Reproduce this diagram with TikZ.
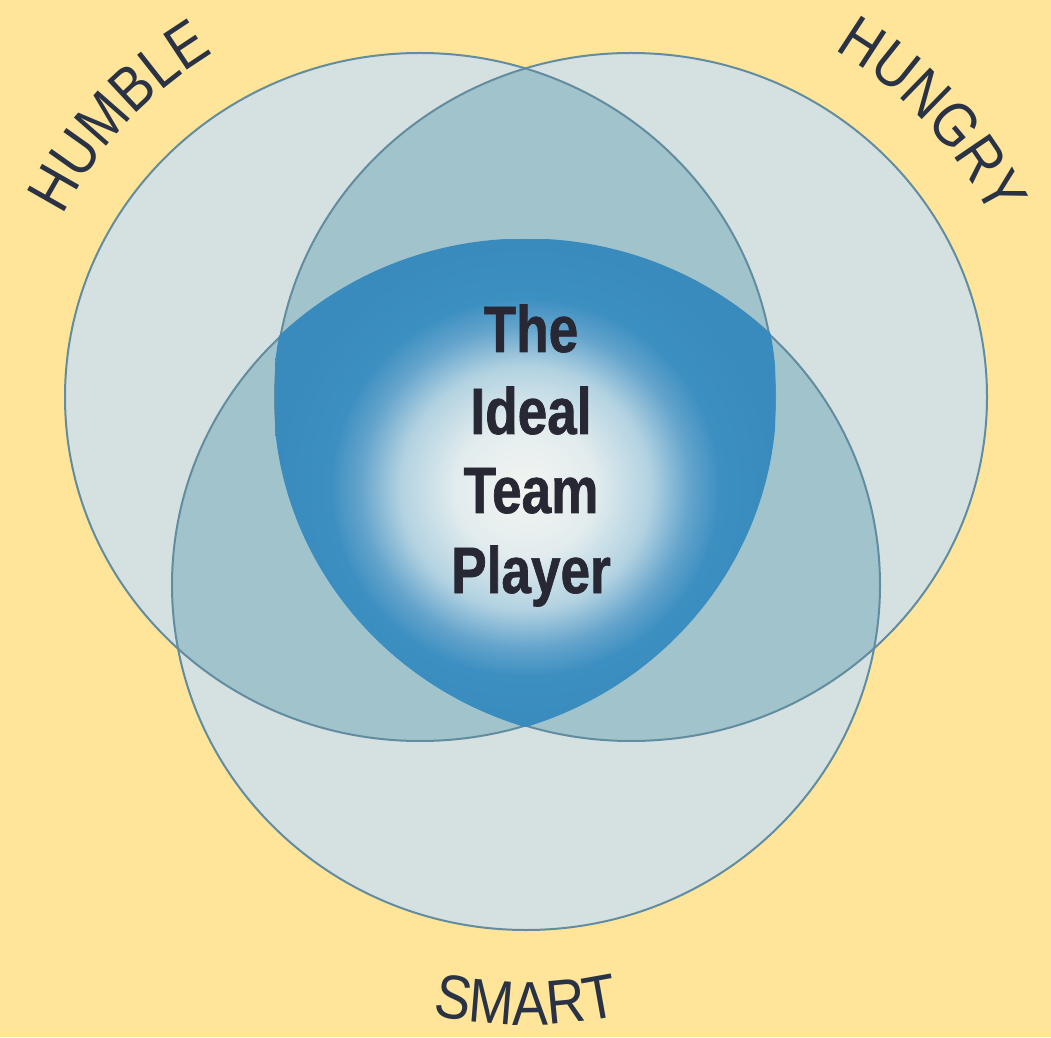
\documentclass[tikz,border=0pt]{standalone}
\usepackage{fontspec}
\usetikzlibrary{decorations.text}

% Typefaces: a narrowed sans for the ring labels and the centre title
\newfontfamily\ringlabelfam[FakeStretch=0.87]{Liberation Sans}
\newfontfamily\corefam[FakeStretch=0.81, BoldFeatures={FakeBold=1}]{Liberation Sans}
\newcommand\ringlabelfont{\ringlabelfam\fontsize{62}{70}\selectfont}
\newcommand\coretitlefont{\corefam\bfseries\fontsize{65.6}{80}\selectfont}

% Palette
\definecolor{paper}{RGB}{255,229,153}
\definecolor{ringfill}{RGB}{213,224,224}
\definecolor{pairfill}{RGB}{161,196,204}
\definecolor{ringline}{RGB}{98,140,160}
\definecolor{labelink}{RGB}{42,50,70}
\definecolor{coreink}{RGB}{40,40,52}
\definecolor{corecentre}{RGB}{243,245,241}
\definecolor{corepale}{RGB}{226,236,238}
\definecolor{coremid}{RGB}{178,210,225}
\definecolor{coresoft}{RGB}{100,164,204}
\definecolor{coreblue}{RGB}{60,143,193}
\definecolor{coredeep}{RGB}{57,139,189}

% Glow of the shared core: pale centre fading out to deep blue
% (25bp reaches the edge of the shaded box)
\pgfdeclareradialshading{coreglow}{\pgfpoint{0bp}{-0.7bp}}{%
  color(0bp)=(corecentre); color(7bp)=(corepale); color(12.5bp)=(coremid);
  color(16.5bp)=(coresoft); color(19.5bp)=(coreblue); color(25bp)=(coredeep);
  color(50bp)=(coredeep)}

\begin{document}
\begin{tikzpicture}[x=1pt,y=1pt,
    ringbody/.style={fill=ringfill},
    pairbody/.style={fill=pairfill},
    ringedge/.style={draw=ringline, line width=2pt},
    ringlabel/.style={decorate, decoration={text along path, text align=center,
        text color=labelink, text={|\ringlabelfont|#1}}},
    coretext/.style={font=\coretitlefont, text=coreink, inner sep=0pt, anchor=base}]

  % Canvas
  \fill[paper] (0,0) rectangle (1051,1037);
  \useasboundingbox (0,0) rectangle (1051,1037);

  % The three rings
  \def\humble{(420,640) ellipse [x radius=355, y radius=344]}
  \def\hungry{(631,640) ellipse [x radius=356, y radius=344]}
  \def\smart{(526,452) ellipse [x radius=354, y radius=345]}

  \fill[ringbody] \humble;
  \fill[ringbody] \hungry;
  \fill[ringbody] \smart;

  % Pairwise overlaps
  \begin{scope}
    \clip \humble;
    \fill[pairbody] \hungry;
    \fill[pairbody] \smart;
  \end{scope}
  \begin{scope}
    \clip \hungry;
    \fill[pairbody] \smart;
  \end{scope}

  % Ring outlines
  \draw[ringedge] \humble;
  \draw[ringedge] \hungry;
  \draw[ringedge] \smart;

  % Shared core of all three rings (slightly widened to cover the outlines)
  \begin{scope}
    \clip (420,640) ellipse [x radius=356.5, y radius=345.5];
    \clip (631,640) ellipse [x radius=357.5, y radius=345.5];
    \clip (526,452) ellipse [x radius=355.5, y radius=346.5];
    \shade[shading=coreglow] (275,311) rectangle (775,797);
  \end{scope}

  % Ring labels set along arcs around each ring
  \path[ringlabel=HUMBLE] (420,640) ++(160:401) arc[start angle=160, end angle=114, radius=401];
  \path[ringlabel=HUNGRY] (631,640) ++(66:402) arc[start angle=66, end angle=20, radius=402];
  \path[ringlabel=SMART] (526,452) ++(250:440) arc[start angle=250, end angle=290, radius=440];

  % Centre title
  \node[coretext] (coreA) at (531,685) {The};
  \node[coretext] (coreB) at (531,603) {Ideal};
  \node[coretext] (coreC) at (531,524) {Team};
  \node[coretext] (coreD) at (531,444) {Player};
\end{tikzpicture}
\end{document}
